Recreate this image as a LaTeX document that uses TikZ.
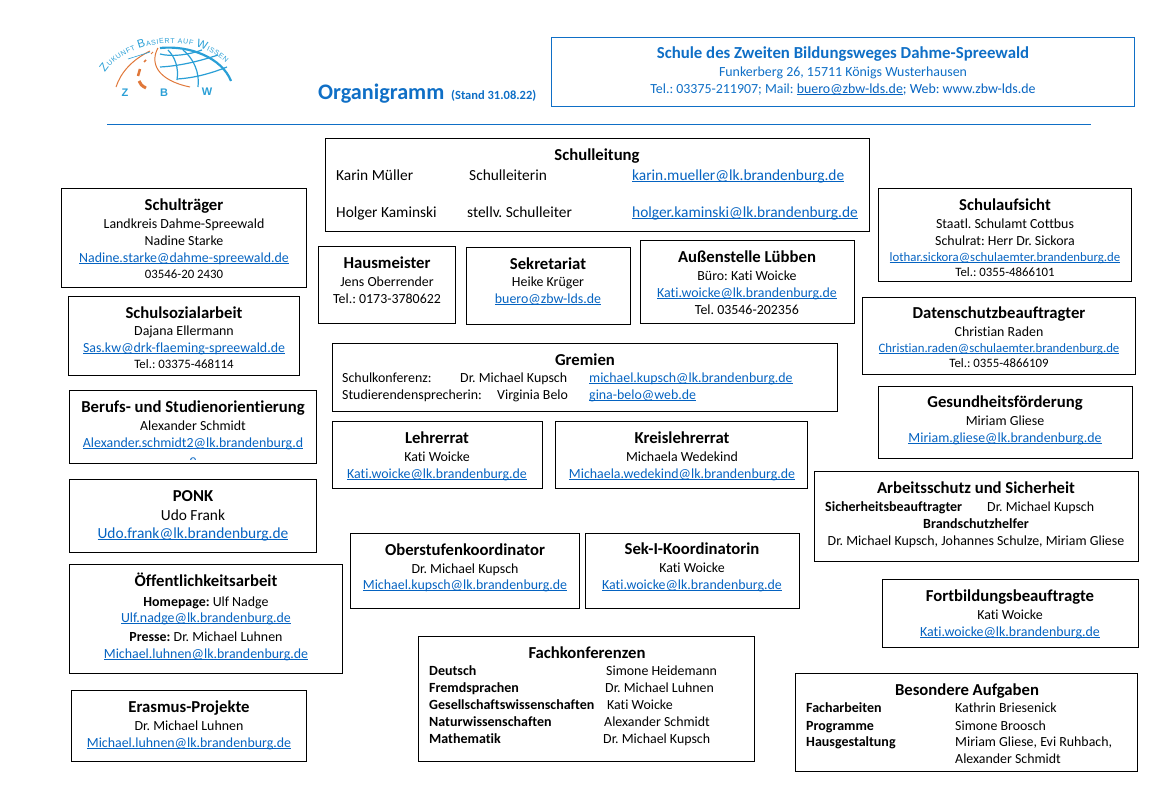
\documentclass[tikz,border=0pt]{standalone}
\usepackage{fontspec}
\setmainfont[Ligatures={NoCommon}]{Carlito}
\newfontfamily\logofont{Liberation Sans}
\usetikzlibrary{decorations.text}
\definecolor{headblue}{HTML}{0F6FC6}
\definecolor{linkblue}{HTML}{0563C1}
\definecolor{logoblue}{HTML}{2A9FD6}
\definecolor{logoorange}{HTML}{E0783A}
\newcommand{\lnk}[1]{\setbox0=\hbox{\color{linkblue}#1}\rlap{\color{linkblue}\rule[-1.7pt]{\wd0}{1pt}}\box0}
\newcommand{\lgb}{\logofont\fontsize{11.5}{11.5}\selectfont\color{logoblue}}
\newcommand{\lgs}{\logofont\fontsize{7}{7}\selectfont\color{logoblue}}
\tikzset{
    orgbox/.style={draw=black, line width=0.9pt, inner sep=0pt, outer sep=0pt, anchor=north west},
    hdbox/.style={draw=headblue, line width=0.7pt, inner sep=0pt, outer sep=0pt, anchor=north west},
    ttl/.style={font=\fontsize{16.7}{16.7}\selectfont\bfseries, inner sep=0pt, anchor=base},
    txt/.style={font=\fontsize{13.9}{13.9}\selectfont, inner sep=0pt, anchor=base},
    txl/.style={txt, anchor=base west},
    bld/.style={txl, font=\fontsize{14}{14}\selectfont\bfseries},
    sml/.style={txt, font=\fontsize{12.8}{12.8}\selectfont},
    lrg/.style={txl, font=\fontsize{15.4}{15.4}\selectfont},
    globe/.style={draw=logoblue, line width=1.2pt},
    road/.style={draw=logoorange, line width=1pt},
    zbw/.style={font=\logofont\fontsize{11}{11}\selectfont\bfseries, text=logoblue, inner sep=0pt},
}
\newcommand{\orgbox}[5]{\node[orgbox, minimum width=#4-#2-0.8, minimum height=#5-#3-0.8] (#1) at (#2,#3) {};}
\begin{document}
\frenchspacing
\begin{tikzpicture}[x=1pt, y=-1pt]
    \useasboundingbox (0,0) rectangle (1169,790);
    % logo
    \draw[globe, line width=2.2pt] (160,48) .. controls (190,45) and (222,58) .. (231,81);
    \draw[globe] (160,54) .. controls (172,57) and (188,55) .. (202,50);
    \draw[globe] (160,67) .. controls (180,66) and (200,61) .. (218,55);
    \draw[globe] (177,79) .. controls (195,78) and (212,73) .. (227,67);
    \draw[globe] (168,50) .. controls (175,57) and (179,68) .. (177,80);
    \draw[globe] (183,50) .. controls (193,58) and (200,72) .. (198,87);
    \draw[road] (158,48) .. controls (150,62) and (156,80) .. (190,87);
    \draw[road, line width=0.7pt] (158,48) -- (157,49);
    \draw[road, line width=1pt] (153,52) -- (151,54);
    \draw[road, line width=1.5pt] (146,60) -- (144,62);
    \draw[road, line width=2.5pt] (140,69) -- (138,76);
    \draw[road, line width=3pt] (139,81) .. controls (140,84) and (142,86) .. (146,88);
    \draw[road] (150,51) .. controls (132,60) and (121,72) .. (116,87);
    \draw[logoblue, line width=0.6pt] (128,59) -- (150,52);
    \path[postaction={decorate, decoration={text along path, text align={fit to path},
        text={|\lgb|Z|\lgs|UKUNFT |\lgb|B|\lgs|ASIERT AUF |\lgb|W|\lgs|ISSEN}}}]
        (105,73) .. controls (125,42) and (190,30) .. (226,63);
    \node[zbw] (logoz) at (125,93) {Z};
    \node[zbw] (logob) at (164,93) {B};
    \node[zbw] (logow) at (207,92) {W};
    % title and school
    \node[inner sep=0pt, anchor=base west, text=headblue, font=\fontsize{22.2}{22.2}\selectfont\bfseries] (orga) at (318,99) {Organigramm};
    \node[inner sep=0pt, anchor=base west, text=headblue, font=\fontsize{12.5}{12.5}\selectfont\bfseries] (stand) at (451,99) {(Stand 31.08.22)};
    \node[hdbox, minimum width=583.2, minimum height=69.2] (schule) at (551,37) {};
    \node[ttl, text=headblue, font=\fontsize{16.8}{16.8}\selectfont\bfseries] (schulname) at (843,58) {Schule des Zweiten Bildungsweges Dahme-Spreewald};
    \node[txt, text=headblue] (adresse) at (843,76) {Funkerberg 26, 15711 Königs Wusterhausen};
    \node[txt, text=headblue] (kontakt) at (843,93) {Tel.: 03375-211907; Mail: \lnk{buero@zbw-lds.de}; Web: www.zbw-lds.de};
    \coordinate (trennl) at (107,124);
    \coordinate (trennr) at (1091,124);
    \draw[headblue, line width=0.8pt] (trennl) -- (trennr);
    % schulleitung
    \orgbox{leitung}{325}{138}{870}{232}
    \node[ttl] (leitungt) at (597,160) {Schulleitung};
    \node[lrg] (lname1) at (336,180) {Karin Müller};
    \node[lrg] (lrolle1) at (469,180) {Schulleiterin};
    \node[lrg] (lmail1) at (632,180) {\lnk{karin.mueller@lk.brandenburg.de}};
    \node[lrg] (lname2) at (336,217) {Holger Kaminski};
    \node[lrg] (lrolle2) at (467,217) {stellv. Schulleiter};
    \node[lrg] (lmail2) at (632,217) {\lnk{holger.kaminski@lk.brandenburg.de}};
    % linke spalte
    \orgbox{traeger}{61}{188}{307}{288}
    \node[ttl] (traegert) at (184,210) {Schulträger};
    \node[txt] (traegera) at (184,228) {Landkreis Dahme-Spreewald};
    \node[txt] (traegerb) at (184,245) {Nadine Starke};
    \node[txt] (traegerc) at (184,262) {\lnk{Nadine.starke@dahme-spreewald.de}};
    \node[sml] (traegerd) at (184,278) {03546-20 2430};
    \orgbox{sozial}{68}{296}{300}{376}
    \node[ttl] (sozialt) at (184,318) {Schulsozialarbeit};
    \node[txt] (soziala) at (184,335) {Dajana Ellermann};
    \node[txt] (sozialb) at (184,352) {\lnk{Sas.kw@drk-flaeming-spreewald.de}};
    \node[sml] (sozialc) at (184,368) {Tel.: 03375-468114};
    \orgbox{berufe}{69}{390}{317}{464}
    \node[ttl] (berufet) at (193,412) {Berufs- und Studienorientierung};
    \node[txt] (berufea) at (193,430) {Alexander Schmidt};
    \node[txt] (berufeb) at (193,447) {\lnk{Alexander.schmidt2@lk.brandenburg.d}};
    \begin{scope}
        \clip (180,450) rectangle (206,459.5);
        \node[txt, text=linkblue] (berufec) at (193,464) {e};
    \end{scope}
    \orgbox{ponk}{69}{479}{317}{553}
    \node[ttl] (ponkt) at (193,501) {PONK};
    \node[txt, font=\fontsize{15.4}{15.4}\selectfont] (ponka) at (193,520) {Udo Frank};
    \node[txt, font=\fontsize{15.4}{15.4}\selectfont] (ponkb) at (193,538) {\lnk{Udo.frank@lk.brandenburg.de}};
    \orgbox{oeffent}{69}{564}{343}{674}
    \node[ttl] (oeffentt) at (206,586) {Öffentlichkeitsarbeit};
    \node[txt] (oeffenta) at (206,606) {\textbf{Homepage:} Ulf Nadge};
    \node[txt] (oeffentb) at (206,622) {\lnk{Ulf.nadge@lk.brandenburg.de}};
    \node[txt] (oeffentc) at (206,641) {\textbf{Presse:} Dr. Michael Luhnen};
    \node[txt] (oeffentd) at (206,658) {\lnk{Michael.luhnen@lk.brandenburg.de}};
    \orgbox{erasmus}{71}{690}{307}{762}
    \node[ttl] (erasmust) at (189,712) {Erasmus-Projekte};
    \node[txt] (erasmusa) at (189,730) {Dr. Michael Luhnen};
    \node[txt] (erasmusb) at (189,747) {\lnk{Michael.luhnen@lk.brandenburg.de}};
    % mitte
    \orgbox{haus}{318}{246}{456}{324}
    \node[ttl] (haust) at (387,268) {Hausmeister};
    \node[txt] (hausa) at (387,286) {Jens Oberrender};
    \node[txt] (hausb) at (387,303) {Tel.: 0173-3780622};
    \orgbox{sekr}{466}{247}{631}{325}
    \node[ttl] (sekrt) at (548,269) {Sekretariat};
    \node[txt] (sekra) at (548,286) {Heike Krüger};
    \node[txt] (sekrb) at (548,303) {\lnk{buero@zbw-lds.de}};
    \orgbox{aussen}{640}{240}{855}{324}
    \node[ttl] (aussent) at (747,262) {Außenstelle Lübben};
    \node[txt] (aussena) at (747,280) {Büro: Kati Woicke};
    \node[txt] (aussenb) at (747,297) {\lnk{Kati.woicke@lk.brandenburg.de}};
    \node[txt] (aussenc) at (747,314) {Tel. 03546-202356};
    \orgbox{gremien}{332}{343}{838}{412}
    \node[ttl] (gremient) at (585,365) {Gremien};
    \node[txl] (gremiena) at (342,382) {Schulkonferenz:};
    \node[txl] (gremienb) at (460,382) {Dr. Michael Kupsch};
    \node[txl] (gremienc) at (589,382) {\lnk{michael.kupsch@lk.brandenburg.de}};
    \node[txl] (gremiend) at (342,399) {Studierendensprecherin:};
    \node[txl] (gremiene) at (497,399) {Virginia Belo};
    \node[txl] (gremienf) at (589,399) {\lnk{gina-belo@web.de}};
    \orgbox{lehrer}{332}{421}{543}{489}
    \node[ttl] (lehrert) at (437,443) {Lehrerrat};
    \node[txt] (lehrera) at (437,461) {Kati Woicke};
    \node[txt] (lehrerb) at (437,478) {\lnk{Kati.woicke@lk.brandenburg.de}};
    \orgbox{kreis}{555}{421}{808}{489}
    \node[ttl] (kreist) at (682,443) {Kreislehrerrat};
    \node[txt] (kreisa) at (682,461) {Michaela Wedekind};
    \node[txt] (kreisb) at (682,478) {\lnk{Michaela.wedekind@lk.brandenburg.de}};
    \orgbox{ober}{350}{533}{580}{609}
    \node[ttl] (obert) at (465,555) {Oberstufenkoordinator};
    \node[txt] (obera) at (465,573) {Dr. Michael Kupsch};
    \node[txt] (oberb) at (465,589) {\lnk{Michael.kupsch@lk.brandenburg.de}};
    \orgbox{seki}{585}{533}{800}{609}
    \node[ttl] (sekit) at (692,554) {Sek-I-Koordinatorin};
    \node[txt] (sekia) at (692,572) {Kati Woicke};
    \node[txt] (sekib) at (692,589) {\lnk{Kati.woicke@lk.brandenburg.de}};
    \orgbox{fach}{418}{636}{755}{762}
    \node[ttl] (facht) at (587,658) {Fachkonferenzen};
    \node[bld] (facha) at (429,675) {Deutsch};
    \node[txl] (fachb) at (606,675) {Simone Heidemann};
    \node[bld] (fachc) at (429,692) {Fremdsprachen};
    \node[txl] (fachd) at (605,692) {Dr. Michael Luhnen};
    \node[bld] (fache) at (429,709) {Gesellschaftswissenschaften};
    \node[txl] (fachf) at (607,709) {Kati Woicke};
    \node[bld] (fachg) at (429,726) {Naturwissenschaften};
    \node[txl] (fachh) at (604,726) {Alexander Schmidt};
    \node[bld] (fachi) at (429,743) {Mathematik};
    \node[txl] (fachj) at (603,743) {Dr. Michael Kupsch};
    % rechte spalte
    \orgbox{aufsicht}{878}{188}{1132}{282}
    \node[ttl] (aufsichtt) at (1005,210) {Schulaufsicht};
    \node[txt] (aufsichta) at (1005,228) {Staatl. Schulamt Cottbus};
    \node[txt] (aufsichtb) at (1005,245) {Schulrat: Herr Dr. Sickora};
    \node[sml] (aufsichtc) at (1005,261) {\lnk{lothar.sickora@schulaemter.brandenburg.de}};
    \node[sml] (aufsichtd) at (1005,276) {Tel.: 0355-4866101};
    \orgbox{daten}{862}{297}{1136}{375}
    \node[ttl] (datent) at (999,318) {Datenschutzbeauftragter};
    \node[txt] (datena) at (999,336) {Christian Raden};
    \node[sml] (datenb) at (999,352) {\lnk{Christian.raden@schulaemter.brandenburg.de}};
    \node[sml] (datenc) at (999,367) {Tel.: 0355-4866109};
    \orgbox{gesund}{878}{386}{1133}{459}
    \node[ttl] (gesundt) at (1005,407) {Gesundheitsförderung};
    \node[txt] (gesunda) at (1005,425) {Miriam Gliese};
    \node[txt] (gesundb) at (1005,442) {\lnk{Miriam.gliese@lk.brandenburg.de}};
    \orgbox{arbeit}{814}{471}{1139}{562}
    \node[ttl] (arbeitt) at (976,493) {Arbeitsschutz und Sicherheit};
    \node[bld] (arbeita) at (825,511) {Sicherheitsbeauftragter};
    \node[txl] (arbeitb) at (987,511) {Dr. Michael Kupsch};
    \node[txt, font=\fontsize{14}{14}\selectfont\bfseries] (arbeitc) at (976,528) {Brandschutzhelfer};
    \node[txt] (arbeitd) at (976,545) {Dr. Michael Kupsch, Johannes Schulze, Miriam Gliese};
    \orgbox{fort}{882}{579}{1139}{648}
    \node[ttl] (fortt) at (1010,601) {Fortbildungsbeauftragte};
    \node[txt] (forta) at (1010,619) {Kati Woicke};
    \node[txt] (fortb) at (1010,636) {\lnk{Kati.woicke@lk.brandenburg.de}};
    \orgbox{besonders}{795}{673}{1138}{772}
    \node[ttl] (besonderst) at (967,695) {Besondere Aufgaben};
    \node[bld] (besondersa) at (806,712) {Facharbeiten};
    \node[txl] (besondersb) at (955,712) {Kathrin Briesenick};
    \node[bld] (besondersc) at (806,730) {Programme};
    \node[txl] (besondersd) at (955,730) {Simone Broosch};
    \node[bld] (besonderse) at (806,746) {Hausgestaltung};
    \node[txl] (besondersf) at (955,746) {Miriam Gliese, Evi Ruhbach,};
    \node[txl] (besondersg) at (955,763) {Alexander Schmidt};
\end{tikzpicture}
\end{document}
